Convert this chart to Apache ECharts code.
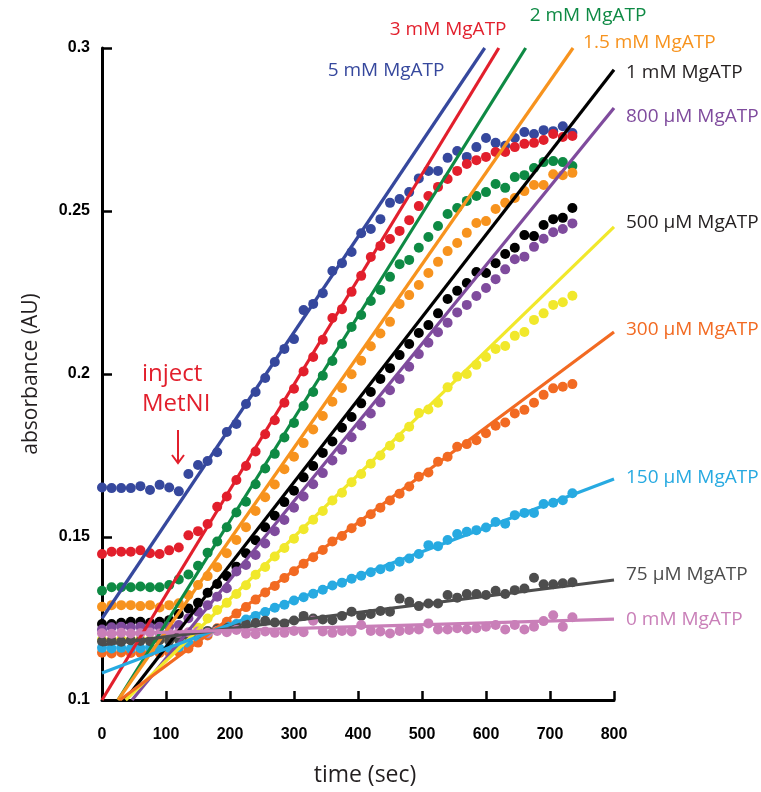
<!DOCTYPE html>
<html>
<head>
<meta charset="utf-8">
<script src="https://cdn.jsdelivr.net/npm/echarts@6/dist/echarts.min.js"></script>
<style>
html,body{margin:0;padding:0;background:#fff;overflow:hidden;}
#chart{width:761px;height:792px;}
</style>
</head>
<body>
<div id="chart"></div>
<script>
// sample times (sec)
const times = [0,15,30,45,60,75,90,105,120,135,150,165,180,195,210,225,240,255,270,285,
  300,315,330,345,360,375,390,405,420,435,450,465,480,495,510,525,540,555,570,585,
  600,615,630,645,660,675,690,705,720,735];

const mM5 = [0.1652,0.1650,0.1650,0.1650,0.1656,0.1644,0.1660,0.1652,0.1640,0.1693,
 0.1721,0.1733,0.1760,0.1822,0.1847,0.1908,0.1945,0.1988,0.2037,0.2077,
 0.2107,0.2196,0.2215,0.2248,0.2316,0.2340,0.2374,0.2432,0.2445,0.2475,
 0.2525,0.2537,0.2558,0.2600,0.2623,0.2623,0.2663,0.2684,0.2666,0.2696,
 0.2724,0.2709,0.2700,0.2724,0.2742,0.2736,0.2748,0.2745,0.2760,0.2739];
const mM3 = [0.1448,0.1455,0.1455,0.1455,0.1459,0.1450,0.1448,0.1459,0.1468,0.1505,
 0.1518,0.1540,0.1593,0.1624,0.1675,0.1718,0.1762,0.1815,0.1858,0.1912,
 0.1955,0.2008,0.2052,0.2105,0.2172,0.2199,0.2252,0.2301,0.2359,0.2393,
 0.2414,0.2439,0.2472,0.2515,0.2546,0.2574,0.2598,0.2623,0.2644,0.2656,
 0.2666,0.2681,0.2681,0.2696,0.2706,0.2709,0.2718,0.2736,0.2727,0.2730];
const mM2 = [0.1335,0.1346,0.1346,0.1346,0.1348,0.1346,0.1346,0.1353,0.1370,0.1385,
 0.1412,0.1452,0.1486,0.1530,0.1575,0.1608,0.1662,0.1710,0.1755,0.1805,
 0.1850,0.1902,0.1945,0.1995,0.2040,0.2092,0.2144,0.2181,0.2224,0.2258,
 0.2298,0.2337,0.2350,0.2387,0.2420,0.2454,0.2491,0.2509,0.2531,0.2546,
 0.2558,0.2583,0.2571,0.2604,0.2610,0.2632,0.2650,0.2653,0.2650,0.2638];
const mM1_5 = [0.1286,0.1291,0.1291,0.1291,0.1288,0.1291,0.1284,0.1291,0.1297,0.1322,
 0.1353,0.1380,0.1407,0.1450,0.1491,0.1530,0.1580,0.1622,0.1661,0.1708,
 0.1746,0.1788,0.1830,0.1871,0.1915,0.1957,0.1999,0.2041,0.2085,0.2124,
 0.2160,0.2215,0.2242,0.2273,0.2310,0.2344,0.2377,0.2402,0.2433,0.2463,
 0.2469,0.2506,0.2525,0.2540,0.2561,0.2580,0.2580,0.2613,0.2610,0.2617];
const mM1 = [0.1233,0.1233,0.1237,0.1240,0.1240,0.1237,0.1240,0.1245,0.1264,0.1281,
 0.1298,0.1329,0.1356,0.1380,0.1409,0.1450,0.1490,0.1530,0.1565,0.1607,
 0.1642,0.1683,0.1718,0.1758,0.1793,0.1835,0.1868,0.1910,0.1945,0.1985,
 0.2018,0.2058,0.2092,0.2126,0.2150,0.2186,0.2230,0.2255,0.2279,0.2313,
 0.2310,0.2340,0.2368,0.2387,0.2426,0.2423,0.2457,0.2475,0.2479,0.2509];
const uM800 = [0.1216,0.1223,0.1225,0.1223,0.1225,0.1223,0.1225,0.1225,0.1230,0.1251,
 0.1271,0.1291,0.1317,0.1343,0.1394,0.1414,0.1445,0.1480,0.1518,0.1552,
 0.1590,0.1624,0.1662,0.1696,0.1735,0.1768,0.1806,0.1842,0.1879,0.1913,
 0.1950,0.1985,0.2022,0.2061,0.2096,0.2128,0.2157,0.2189,0.2212,0.2239,
 0.2264,0.2291,0.2321,0.2352,0.2360,0.2390,0.2415,0.2435,0.2445,0.2462];
const uM500 = [0.1185,0.1183,0.1186,0.1184,0.1186,0.1183,0.1185,0.1187,0.1186,0.1195,
 0.1222,0.1250,0.1276,0.1298,0.1325,0.1352,0.1384,0.1408,0.1440,0.1466,
 0.1495,0.1524,0.1553,0.1580,0.1612,0.1636,0.1668,0.1693,0.1725,0.1750,
 0.1780,0.1806,0.1838,0.1880,0.1891,0.1912,0.1959,0.1992,0.2000,0.2028,
 0.2052,0.2077,0.2086,0.2117,0.2129,0.2166,0.2186,0.2212,0.2220,0.2240];
const uM300 = [0.1145,0.1143,0.1146,0.1144,0.1145,0.1147,0.1144,0.1146,0.1148,0.1158,
 0.1176,0.1198,0.1220,0.1240,0.1265,0.1285,0.1308,0.1330,0.1350,0.1374,
 0.1395,0.1418,0.1438,0.1460,0.1486,0.1503,0.1527,0.1546,0.1570,0.1590,
 0.1612,0.1633,0.1655,0.1685,0.1698,0.1731,0.1746,0.1777,0.1785,0.1797,
 0.1818,0.1841,0.1851,0.1879,0.1890,0.1912,0.1936,0.1956,0.1961,0.1969];
const uM150 = [0.1160,0.1158,0.1160,0.1157,0.1159,0.1161,0.1158,0.1160,0.1162,0.1175,
 0.1192,0.1205,0.1214,0.1226,0.1233,0.1247,0.1258,0.1270,0.1283,0.1292,
 0.1305,0.1315,0.1326,0.1338,0.1351,0.1360,0.1372,0.1381,0.1392,0.1401,
 0.1409,0.1424,0.1434,0.1448,0.1475,0.1472,0.1491,0.1509,0.1516,0.1521,
 0.1529,0.1546,0.1541,0.1567,0.1574,0.1574,0.1601,0.1605,0.1613,0.1634];
const uM75 = [0.1180,0.1182,0.1179,0.1183,0.1181,0.1180,0.1184,0.1182,0.1186,0.1195,
 0.1205,0.1212,0.1218,0.1222,0.1226,0.1232,0.1236,0.1243,0.1238,0.1235,
 0.1244,0.1258,0.1250,0.1247,0.1245,0.1258,0.1271,0.1258,0.1264,0.1273,
 0.1271,0.1311,0.1301,0.1288,0.1296,0.1296,0.1322,0.1314,0.1325,0.1325,
 0.1322,0.1335,0.1325,0.1337,0.1342,0.1375,0.1355,0.1355,0.1358,0.1361];
const mM0 = [0.1205,0.1203,0.1206,0.1204,0.1205,0.1207,0.1204,0.1205,0.1206,0.1208,
 0.1210,0.1206,0.1212,0.1208,0.1215,0.1203,0.1202,0.1210,0.1206,0.1206,
 0.1212,0.1208,0.1243,0.1210,0.1206,0.1212,0.1210,0.1230,0.1212,0.1210,
 0.1204,0.1212,0.1215,0.1216,0.1235,0.1216,0.1216,0.1220,0.1216,0.1220,
 0.1225,0.1230,0.1216,0.1230,0.1216,0.1225,0.1242,0.1260,0.1225,0.1254];

// fitted straight lines: [start point, end point] in (sec, AU)
const fit5mM   = [[0, 0.125], [598, 0.300]];
const fit3mM   = [[0, 0.100], [620, 0.300]];
const fit2mM   = [[25, 0.100], [662, 0.300]];
const fit1_5mM = [[25, 0.100], [736, 0.300]];
const fit1mM   = [[36, 0.100], [800, 0.2933]];
const fit800uM = [[47, 0.100], [800, 0.2816]];
const fit500uM = [[37, 0.100], [800, 0.2451]];
const fit300uM = [[28, 0.100], [800, 0.2129]];
const fit150uM = [[0, 0.1083], [800, 0.1678]];
const fit75uM  = [[0, 0.1169], [800, 0.1368]];
const fit0mM   = [[0, 0.1202], [800, 0.1248]];

const seriesNames = ['5 mM MgATP','3 mM MgATP','2 mM MgATP','1.5 mM MgATP','1 mM MgATP',
  '800 µM MgATP','500 µM MgATP','300 µM MgATP','150 µM MgATP','75 µM MgATP','0 mM MgATP'];
const yTicks = [0.1, 0.15, 0.2, 0.25, 0.3];

const values = [mM5, mM3, mM2, mM1_5, mM1, uM800, uM500, uM300, uM150, uM75, mM0];
const fits = [fit5mM, fit3mM, fit2mM, fit1_5mM, fit1mM, fit800uM, fit500uM, fit300uM, fit150uM, fit75uM, fit0mM];
const colors = ['#36489d','#e21f2c','#0e8a44','#f7931e','#000000','#7f4b9d','#f1e82b','#f26a22','#27aae1','#4d4d4d','#c97fb8'];
const labelColors = ['#36489d','#e21f2c','#0e8a44','#f7931e','#231f20','#7f4b9d','#231f20','#f26a22','#27aae1','#4d4d4d','#c97fb8'];
const labelOffsets = [[-169,23],[-121,-18],[-8,-32],[-2,-5],[0,3],[0,9],[0,-4],[0,-2],[0,-1],[0,-5],[0,0]];

const FONT = 'Open Sans';
const series = [];
values.forEach((v, i) => {
  series.push({
    type: 'scatter', name: seriesNames[i] + ' data', z: 2,
    data: times.map((t, k) => [t, v[k]]),
    symbol: 'circle', symbolSize: 10,
    itemStyle: { color: colors[i], opacity: 1 },
    silent: true
  });
});
fits.forEach((f, i) => {
  series.push({
    type: 'line', name: seriesNames[i], z: 3,
    data: f, symbol: 'none', silent: true,
    lineStyle: { color: colors[i], width: 3.2 },
    endLabel: {
      show: true, formatter: seriesNames[i], color: labelColors[i],
      fontFamily: FONT, fontSize: 19, distance: 12, offset: labelOffsets[i]
    }
  });
});

const chart = echarts.init(document.getElementById('chart'), null, { renderer: 'canvas', width: 761, height: 792 });
chart.setOption({
  animation: false,
  backgroundColor: '#fff',
  grid: { left: 102, right: 147, top: 48, bottom: 92, containLabel: false },
  xAxis: {
    type: 'value', min: 0, max: 800, interval: 100,
    name: 'time (sec)', nameLocation: 'middle', nameGap: 64,
    nameTextStyle: { fontFamily: FONT, fontSize: 23, color: '#231f20', padding: [0, 0, 0, 14] },
    axisLine: { show: true, onZero: false, lineStyle: { color: '#000', width: 3 } },
    axisTick: { show: true, inside: true, length: 9, lineStyle: { color: '#000', width: 2.5 } },
    axisLabel: { margin: 27, fontFamily: 'Liberation Sans', fontWeight: 'bold', fontSize: 16, color: '#000' },
    splitLine: { show: false }
  },
  yAxis: {
    type: 'value', min: 0.1, max: 0.3, interval: 0.05,
    name: 'absorbance (AU)', nameLocation: 'middle', nameGap: 60, nameRotate: 90,
    nameTextStyle: { fontFamily: FONT, fontSize: 21, color: '#231f20' },
    axisLine: { show: true, onZero: false, lineStyle: { color: '#000', width: 3 } },
    axisTick: { show: true, inside: true, length: 10, lineStyle: { color: '#000', width: 2.5 } },
    axisLabel: {
      margin: 12, fontFamily: 'Liberation Sans', fontWeight: 'bold', fontSize: 16, color: '#000',
      formatter: v => { const t = yTicks.find(y => Math.abs(y - v) < 1e-9); return t === undefined ? '' : String(t); }
    },
    splitLine: { show: false }
  },
  graphic: [
    { type: 'text', left: 142, top: 362, style: { text: 'inject', fill: '#e21f2c', font: '24px "Open Sans"' } },
    { type: 'text', left: 142, top: 392, style: { text: 'MetNI', fill: '#e21f2c', font: '24px "Open Sans"' } },
    { type: 'polyline', shape: { points: [[178, 430], [178, 463]] }, style: { stroke: '#e21f2c', lineWidth: 2, fill: null } },
    { type: 'polyline', shape: { points: [[172, 455], [178, 463], [184, 455]] }, style: { stroke: '#e21f2c', lineWidth: 2, fill: null } }
  ],
  series: series
});
</script>
</body>
</html>
